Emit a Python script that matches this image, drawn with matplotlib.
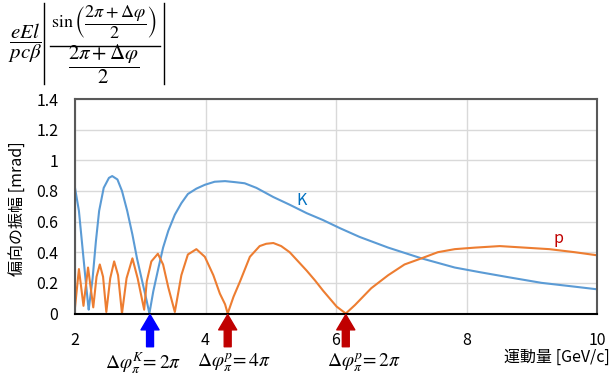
import numpy as np
import matplotlib
matplotlib.use("Agg")
import matplotlib.pyplot as plt
from matplotlib import transforms
from matplotlib.lines import Line2D

plt.rcParams['font.family'] = ['Noto Sans CJK JP', 'DejaVu Sans']
plt.rcParams['mathtext.fontset'] = 'stix'

# kaon curve
k_mom = [2.00, 2.06, 2.11, 2.16, 2.20, 2.21, 2.27, 2.32, 2.37, 2.44, 2.52, 2.57,
         2.65, 2.72, 2.80, 2.88, 2.95, 3.03, 3.10, 3.14, 3.20, 3.28, 3.35, 3.43,
         3.53, 3.63, 3.73, 3.86, 3.99, 4.14, 4.30, 4.46, 4.60, 4.78, 5.04, 5.29,
         5.55, 5.80, 6.06, 6.36, 6.80, 7.31, 7.82, 8.20, 8.64, 9.15, 9.66, 10.0]
k_amp = [0.82, 0.67, 0.45, 0.23, 0.06, 0.025, 0.23, 0.47, 0.67, 0.82, 0.885, 0.897,
         0.875, 0.80, 0.67, 0.515, 0.36, 0.21, 0.08, 0.00, 0.145, 0.30, 0.43, 0.54,
         0.645, 0.72, 0.78, 0.815, 0.84, 0.86, 0.864, 0.857, 0.85, 0.82, 0.76, 0.71,
         0.655, 0.61, 0.557, 0.50, 0.43, 0.36, 0.30, 0.27, 0.237, 0.20, 0.175, 0.158]

# proton curve
p_mom = [2.00, 2.06, 2.13, 2.20, 2.28, 2.33, 2.38, 2.43, 2.48, 2.54, 2.60, 2.66,
         2.72, 2.79, 2.88, 2.96, 3.06, 3.10, 3.17, 3.27, 3.35, 3.43, 3.53, 3.63,
         3.73, 3.86, 3.99, 4.12, 4.22, 4.30, 4.34, 4.43, 4.53, 4.68, 4.83, 4.93,
         5.04, 5.16, 5.29, 5.42, 5.55, 5.68, 5.80, 6.01, 6.15, 6.29, 6.54, 6.80,
         7.05, 7.31, 7.56, 7.82, 8.13, 8.51, 8.89, 9.27, 9.66, 10.0]
p_amp = [0.04, 0.29, 0.05, 0.30, 0.04, 0.24, 0.32, 0.24, 0.01, 0.23, 0.34, 0.25,
         0.00, 0.23, 0.36, 0.23, 0.025, 0.21, 0.34, 0.39, 0.32, 0.17, 0.01, 0.25,
         0.385, 0.42, 0.37, 0.25, 0.13, 0.06, 0.00, 0.11, 0.21, 0.37, 0.44, 0.455,
         0.46, 0.44, 0.40, 0.34, 0.28, 0.215, 0.15, 0.045, 0.00, 0.055, 0.165, 0.25,
         0.32, 0.36, 0.40, 0.42, 0.43, 0.44, 0.43, 0.42, 0.40, 0.38]

# arrows under the axis: position, colour, label
arrow_x = [3.15, 4.34, 6.15]
arrow_col = ['#0000FF', '#C00000', '#C00000']
arrow_lbl = [r'$\Delta\varphi_{\pi}^{K}\!= 2\pi$', r'$\Delta\varphi_{\pi}^{p}\!= 4\pi$',
             r'$\Delta\varphi_{\pi}^{p}\!= 2\pi$']
lbl_x = [3.04, 4.44, 6.43]

W, H = 612, 376
fig = plt.figure(figsize=(W/100, H/100), dpi=100)
ax = fig.add_axes([75/W, 1-313.5/H, (597-75)/W, (313.5-99)/H])

ax.plot(k_mom, k_amp, color='#5B9BD5', lw=1.5)
ax.plot(p_mom, p_amp, color='#ED7D31', lw=1.5)

ax.set_xlim(2, 10)
ax.set_ylim(0, 1.4)
ax.set_xticks([2, 4, 6, 8, 10])
ax.set_yticks([0, 0.2, 0.4, 0.6, 0.8, 1.0, 1.2, 1.4])
ax.set_yticklabels(['0', '0.2', '0.4', '0.6', '0.8', '1', '1.2', '1.4'])
ax.grid(True, color='#D9D9D9', lw=1)
ax.set_axisbelow(True)
ax.tick_params(length=0, labelsize=11.5)
ax.tick_params(axis='x', pad=13)
ax.tick_params(axis='y', pad=12)
for s in ['left', 'top', 'right']:
    ax.spines[s].set_color('#595959')
    ax.spines[s].set_linewidth(1.5)
ax.spines['bottom'].set_color('black')
ax.spines['bottom'].set_linewidth(1.5)

ax.text(5.47, 0.74, 'K', color='#0070C0', fontsize=11.5, ha='center', va='center')
ax.text(9.41, 0.49, 'p', color='#C00000', fontsize=11.5, ha='center', va='center')

trans = transforms.blended_transform_factory(ax.transData, ax.transAxes)
for x, c, t, lx in zip(arrow_x, arrow_col, arrow_lbl, lbl_x):
    ax.annotate('', xy=(x, -0.005), xycoords=trans, xytext=(x, -0.155), textcoords=trans,
                arrowprops=dict(arrowstyle='simple,head_width=0.65,head_length=0.55,tail_width=0.25',
                                color=c, mutation_scale=20, shrinkA=0, shrinkB=0),
                annotation_clip=False)
    ax.text(lx, -0.23, t, transform=trans, fontsize=14, ha='center', va='center',
            clip_on=False)

fig.text(610/W, 1-357/H, '運動量 [GeV/c]', fontsize=11.5, ha='right', va='center')
fig.text(18/W, 1-209/H, '偏向の振幅 [mrad]', fontsize=11.5, rotation=90,
         ha='center', va='center')

# formula at the top left, built from pieces
fig.text(25/W, 1-43/H, r'$\dfrac{eEl}{pc\beta}$', fontsize=15, ha='center', va='center')
fig.text(104/W, 1-22/H, r'$\sin\left(\dfrac{2\pi+\Delta\varphi}{2}\right)$', fontsize=13,
         ha='center', va='center')
fig.text(104/W, 1-64/H, r'$\dfrac{2\pi+\Delta\varphi}{2}$', fontsize=15,
         ha='center', va='center')
for xs, ys in [([43.5, 43.5], [3, 84]), ([164, 164], [3, 84]), ([50, 160], [46, 46])]:
    fig.add_artist(Line2D([v/W for v in xs], [1-v/H for v in ys], color='black', lw=1,
                          transform=fig.transFigure))

fig.savefig('out.png', dpi=100)
